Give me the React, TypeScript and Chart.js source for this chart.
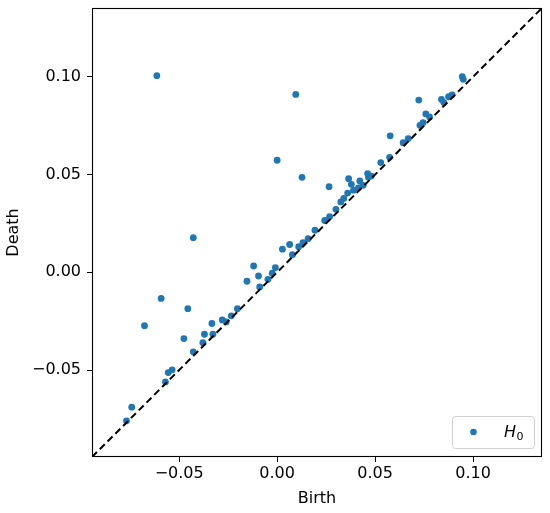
import React, { useEffect, useRef } from "react";
import { Chart, registerables } from "chart.js";

Chart.register(...registerables);

const births: number[] = [
  -0.0614, 0.0095, 0.0, 0.0127, -0.0428, -0.0592, -0.0677, -0.0456, -0.0476, -0.0428,
  -0.0379, -0.0371, -0.0333, -0.0328, -0.028, -0.026, -0.0234, -0.0203, -0.0154, -0.012,
  -0.0095, -0.0089, -0.0047, -0.0025, -0.0009, 0.0027, 0.0064, 0.0078, 0.011, 0.0132,
  0.0158, 0.0193, -0.057, -0.0556, -0.0536, -0.0742, -0.0769, 0.0945, 0.095, 0.0723,
  0.0839, 0.0851, 0.0875, 0.0893, 0.0759, 0.0778, 0.0729, 0.0745, 0.0577, 0.0643,
  0.0669, 0.0529, 0.0574, 0.0265, 0.0365, 0.0379, 0.0422, 0.0462, 0.0466, 0.0325,
  0.034, 0.036, 0.039, 0.0439, 0.0243, 0.0268, 0.03, 0.0415, 0.048,
];
const deaths: number[] = [
  0.1006, 0.091, 0.0573, 0.0486, 0.0177, -0.0134, -0.0273, -0.0186, -0.0339, -0.0407,
  -0.036, -0.0317, -0.0262, -0.0317, -0.0244, -0.0254, -0.0223, -0.0186, -0.0046, 0.0032,
  -0.0019, -0.0075, -0.0036, -0.0005, 0.0024, 0.0118, 0.0142, 0.009, 0.0131, 0.0152,
  0.0172, 0.0215, -0.0561, -0.0513, -0.0499, -0.069, -0.076, 0.1001, 0.0987, 0.0881,
  0.0884, 0.0868, 0.0898, 0.0908, 0.081, 0.0795, 0.0752, 0.0765, 0.0698, 0.0663,
  0.0684, 0.0561, 0.0588, 0.0438, 0.0479, 0.045, 0.0467, 0.0505, 0.0486, 0.036,
  0.0378, 0.0405, 0.042, 0.0445, 0.0265, 0.0285, 0.0322, 0.0432, 0.0492,
];
const axisMin = -0.0945;
const axisMax = 0.1352;
const tickValues: number[] = [-0.05, 0.0, 0.05, 0.1];
const seriesLabel = "H";
const seriesSub = "0";

const FONT = "'DejaVu Sans', sans-serif";
const FS = 16;
const BLUE = "#1f77b4";

const fmt = (v: number) => {
  const s = Math.abs(v).toFixed(2);
  return v < -1e-9 ? "\u2212" + s : s;
};

const framePlugin = {
  id: "frameAndLegend",
  afterDraw(chart: any) {
    const { ctx, chartArea } = chart;
    const { left, top, right, bottom } = chartArea;
    ctx.save();
    ctx.strokeStyle = "#000";
    ctx.lineWidth = 1.1;
    ctx.strokeRect(left + 0.5, top + 0.5, right - left - 1, bottom - top - 1);

    // legend box
    const w = 82;
    const h = 32;
    const bx = right - 8 - w;
    const by = bottom - 9 - h;
    ctx.beginPath();
    (ctx as any).roundRect(bx + 0.5, by + 0.5, w, h, 3);
    ctx.fillStyle = "rgba(255,255,255,0.8)";
    ctx.fill();
    ctx.strokeStyle = "#d0d0d0";
    ctx.lineWidth = 1;
    ctx.stroke();

    const cy = by + h / 2;
    ctx.beginPath();
    ctx.arc(bx + 21.5, cy, 3.3, 0, Math.PI * 2);
    ctx.fillStyle = BLUE;
    ctx.fill();

    ctx.fillStyle = "#000";
    ctx.textBaseline = "alphabetic";
    ctx.textAlign = "left";
    ctx.font = `italic ${FS}px ${FONT}`;
    const hx = bx + 52;
    ctx.fillText(seriesLabel, hx, cy + 5);
    const hw = ctx.measureText(seriesLabel).width;
    ctx.font = `11px ${FONT}`;
    ctx.fillText(seriesSub, hx + hw + 0.5, cy + 7.5);
    ctx.restore();
  },
};

export default function App() {
  const ref = useRef<HTMLCanvasElement | null>(null);

  useEffect(() => {
    document.body.style.margin = "0";
    const canvas = ref.current;
    if (!canvas) return;
    const points = births.map((b, i) => ({ x: b, y: deaths[i] }));
    const chart = new Chart(canvas, {
      type: "scatter",
      data: {
        datasets: [
          {
            type: "line",
            label: "diagonal",
            data: [
              { x: axisMin, y: axisMin },
              { x: axisMax, y: axisMax },
            ],
            borderColor: "#000",
            borderWidth: 2,
            borderDash: [7, 4],
            pointRadius: 0,
            fill: false,
            order: 0,
          } as any,
          {
            label: "H0",
            data: points,
            backgroundColor: BLUE,
            borderColor: BLUE,
            borderWidth: 0,
            pointRadius: 3.4,
            order: 1,
          },
        ],
      },
      options: {
        responsive: false,
        animation: false,
        layout: { padding: { left: 0, top: 8, right: 8, bottom: 0 } },
        plugins: {
          legend: { display: false },
          tooltip: { enabled: false },
        },
        scales: {
          x: {
            type: "linear",
            min: axisMin,
            max: axisMax,
            afterBuildTicks: (s: any) => {
              s.ticks = tickValues.map((v) => ({ value: v }));
            },
            afterFit: (s: any) => {
              s.height = 56;
              s.paddingLeft = 0;
              s.paddingRight = 0;
            },
            border: { display: false },
            grid: {
              drawOnChartArea: false,
              drawTicks: true,
              tickLength: 5,
              tickColor: "#000",
              tickWidth: 1,
            },
            ticks: {
              padding: 2,
              color: "#000",
              font: { family: FONT, size: FS },
              maxRotation: 0,
              callback: (v: any) => fmt(Number(v)),
            },
            title: {
              display: true,
              text: "Birth",
              color: "#000",
              font: { family: FONT, size: FS },
              padding: { top: 0, bottom: 5 },
            },
          },
          y: {
            type: "linear",
            min: axisMin,
            max: axisMax,
            afterBuildTicks: (s: any) => {
              s.ticks = tickValues.map((v) => ({ value: v }));
            },
            afterFit: (s: any) => {
              s.width = 92;
              s.paddingTop = 0;
              s.paddingBottom = 0;
            },
            border: { display: false },
            grid: {
              drawOnChartArea: false,
              drawTicks: true,
              tickLength: 5,
              tickColor: "#000",
              tickWidth: 1,
            },
            ticks: {
              padding: 6,
              color: "#000",
              font: { family: FONT, size: FS },
              callback: (v: any) => fmt(Number(v)),
            },
            title: {
              display: true,
              text: "Death",
              color: "#000",
              font: { family: FONT, size: FS },
              padding: { top: 4, bottom: 0 },
            },
          },
        },
      },
      plugins: [framePlugin],
    });
    return () => chart.destroy();
  }, []);

  return (
    <div style={{ width: 550, height: 513 }}>
      <canvas ref={ref} width={550} height={513} style={{ display: "block" }} />
    </div>
  );
}
